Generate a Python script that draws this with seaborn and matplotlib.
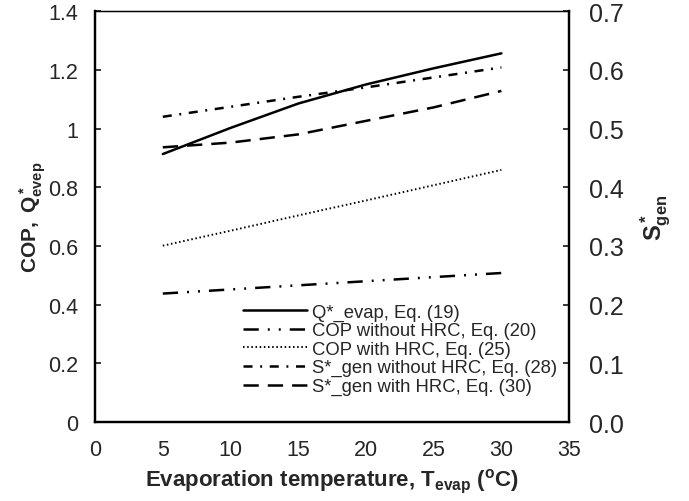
import matplotlib
matplotlib.use("Agg")
import matplotlib.pyplot as plt
import seaborn as sns

# =========================
# DATA
# =========================
t_evap = [5, 10, 15, 20, 25, 30]

q_evap = [0.913, 1.002, 1.085, 1.150, 1.205, 1.256]
cop_no_hrc = [0.438, 0.452, 0.466, 0.480, 0.494, 0.508]
cop_hrc = [0.601, 0.652, 0.704, 0.755, 0.807, 0.859]

# right axis (S*_gen)
sgen_no_hrc = [0.520, 0.537, 0.554, 0.570, 0.587, 0.604]
sgen_hrc = [0.468, 0.476, 0.490, 0.513, 0.536, 0.564]

labels = ["Q*_evap, Eq. (19)",
          "COP without HRC, Eq. (20)",
          "COP with HRC, Eq. (25)",
          "S*_gen without HRC, Eq. (28)",
          "S*_gen with HRC, Eq. (30)"]

# =========================
# STYLE
# =========================
sns.set_style("white")
plt.rcParams['font.family'] = ['Liberation Sans', 'DejaVu Sans']
plt.rcParams['mathtext.fontset'] = 'custom'
plt.rcParams['mathtext.rm'] = 'Liberation Sans'
plt.rcParams['mathtext.it'] = 'Liberation Sans'
plt.rcParams['mathtext.bf'] = 'Liberation Sans:bold'
plt.rcParams['lines.scale_dashes'] = False

fig = plt.figure(figsize=(6.89, 5.02), dpi=100)
ax = fig.add_axes([0.138, 0.157, 0.688, 0.819])
ax2 = ax.twinx()

# =========================
# LINES
# =========================
sns.lineplot(x=t_evap, y=q_evap, ax=ax, color='black', lw=1.8,
             label=labels[0])
sns.lineplot(x=t_evap, y=cop_no_hrc, ax=ax, color='black', lw=1.8,
             ls=(0, (11, 6.5, 1.4, 6.5, 1.4, 6.5)), label=labels[1])
sns.lineplot(x=t_evap, y=cop_hrc, ax=ax, color='black', lw=1.4,
             ls=(0, (1.1, 1.9)), label=labels[2])
sns.lineplot(x=t_evap, y=sgen_no_hrc, ax=ax2, color='black', lw=1.8,
             ls=(0, (6.5, 5.5, 1.4, 5.5)), label=labels[3])
sns.lineplot(x=t_evap, y=sgen_hrc, ax=ax2, color='black', lw=1.8,
             ls=(0, (11, 6.5)), label=labels[4])

h1, l1 = ax.get_legend_handles_labels()
h2, l2 = ax2.get_legend_handles_labels()
ax.get_legend().remove()
ax2.legend(h1 + h2, l1 + l2, loc='upper left',
           bbox_to_anchor=(0.34, 0.412), bbox_transform=fig.transFigure,
           frameon=False, fontsize=13.3, borderpad=0, labelspacing=0.085,
           handlelength=3.45, handletextpad=0.25)

# =========================
# AXES
# =========================
ax.set_xlim(0, 35)
ax.set_ylim(0, 1.4)
ax2.set_ylim(0, 0.7)
ax.set_xticks(range(0, 36, 5))
ax.set_yticks([0, 0.2, 0.4, 0.6, 0.8, 1.0, 1.2, 1.4])
ax.set_yticklabels(['0', '0.2', '0.4', '0.6', '0.8', '1', '1.2', '1.4'])
ax2.set_yticks([0, 0.1, 0.2, 0.3, 0.4, 0.5, 0.6, 0.7])
ax2.set_yticklabels(['%.1f' % v for v in ax2.get_yticks()])

ax.tick_params(axis='x', direction='in', length=4, width=1.3,
               labelsize=15.5, pad=12, top=False)
ax.tick_params(axis='y', direction='in', length=4, width=1.3,
               labelsize=15.5, pad=12)
ax2.tick_params(axis='y', direction='in', length=4, width=1.3,
                labelsize=18, pad=14)

for a in (ax, ax2):
    for side in ('left', 'right', 'bottom'):
        a.spines[side].set_linewidth(1.6)
        a.spines[side].set_color('black')
    a.spines['top'].set_linewidth(0.9)
    a.spines['top'].set_color('black')

ax.set_xlabel(r'Evaporation temperature, T$_{\mathbf{evap}}$ ($^{\mathbf{o}}$C)',
              fontsize=16, fontweight='bold', labelpad=5)
ax.set_ylabel(r'$\mathbf{COP,\ Q^*_{evep}}$', fontsize=15, labelpad=0)
ax2.set_ylabel(r'$\mathbf{S^*_{gen}}$', fontsize=17, labelpad=11)

fig.savefig("out.png", dpi=100)
